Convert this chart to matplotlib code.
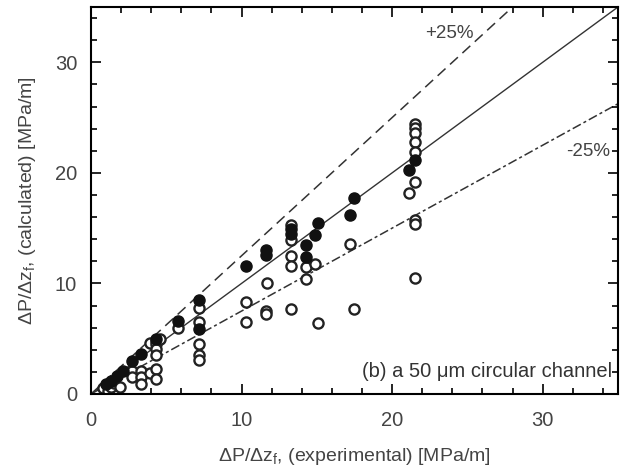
import numpy as np
import matplotlib
matplotlib.use("Agg")
import matplotlib.pyplot as plt
from matplotlib.ticker import MultipleLocator

plt.rcParams['font.family'] = ['Liberation Sans', 'DejaVu Sans']
plt.rcParams['mathtext.default'] = 'regular'

# filled symbols (x experimental, y calculated) [MPa/m]
filled_x = [1.0, 1.3, 1.7, 2.1, 2.7, 3.3, 4.3, 5.8, 7.2, 7.2, 10.3, 11.6, 11.6,
            13.3, 13.3, 14.3, 14.3, 14.9, 15.1, 17.2, 17.5, 21.1, 21.5]
filled_y = [0.9, 1.2, 1.6, 2.1, 3.0, 3.6, 5.0, 6.6, 8.5, 5.9, 11.6, 13.0, 12.6,
            14.5, 14.9, 13.5, 12.4, 14.4, 15.5, 16.2, 17.7, 20.3, 21.2]

# open symbols
open_x = [0.8, 1.1, 1.3, 1.5, 1.9, 2.7, 3.3, 2.7, 3.3, 3.3, 3.9, 3.9, 4.3, 4.3,
          4.3, 4.3, 4.3, 4.3, 4.6, 5.8, 7.2, 7.2, 7.2, 7.2, 7.2, 10.3, 10.3,
          11.7, 11.6, 11.6, 13.3, 13.3, 13.3, 13.3, 13.3, 14.3, 14.3, 14.9,
          15.1, 17.2, 17.5, 21.5, 21.5, 21.5, 21.5, 21.5, 21.5, 21.1, 21.5,
          21.5, 21.5]
open_y = [0.5, 0.3, 0.6, 1.0, 0.6, 2.1, 2.1, 1.5, 1.5, 0.9, 4.6, 1.9, 4.8, 4.5,
          4.1, 3.5, 2.3, 1.4, 5.0, 6.0, 7.8, 6.5, 4.5, 3.5, 3.1, 8.3, 6.5,
          10.0, 7.5, 7.2, 15.3, 13.9, 12.5, 11.6, 7.7, 11.5, 10.4, 11.8,
          6.4, 13.6, 7.7, 24.4, 24.1, 23.6, 22.8, 21.9, 19.2, 18.2, 15.7,
          15.4, 10.5]

fig = plt.figure(figsize=(6.21, 4.71), dpi=100)
ax = fig.add_axes([0.1465, 0.1635, 0.8485, 0.8215])

xl = np.array([0, 40])
ax.plot(xl, xl, color='#333333', lw=1.0, zorder=1)
ax.plot(xl, 1.25 * xl, color='#333333', lw=1.1, dashes=(7, 4), zorder=1)
ax.plot(xl, 0.75 * xl, color='#333333', lw=1.1, dashes=(6, 2, 2, 2), zorder=1)

ax.plot(open_x, open_y, 'o', mfc='white', mec='#222222', mew=1.7, ms=7.3,
        ls='none', zorder=2)
ax.plot(filled_x, filled_y, 'o', mfc='#111111', mec='#111111', ms=8,
        ls='none', zorder=3)

ax.text(23.8, 32.6, '+25%', ha='center', va='center', fontsize=13.5, color='#444444')
ax.text(33.0, 21.9, '-25%', ha='center', va='center', fontsize=13.5, color='#444444')
ax.text(34.6, 2.0, '(b) a 50 μm circular channel', ha='right', va='center',
        fontsize=14.5, color='#333333')

ax.set_xlim(0, 35)
ax.set_ylim(0, 35)
ax.xaxis.set_major_locator(MultipleLocator(10))
ax.xaxis.set_minor_locator(MultipleLocator(2))
ax.yaxis.set_major_locator(MultipleLocator(10))
ax.yaxis.set_minor_locator(MultipleLocator(2))
ax.tick_params(which='both', direction='in', top=True, right=True,
               labelsize=14.5, labelcolor='#444444', width=1.2)
ax.tick_params(which='major', length=7)
ax.tick_params(which='minor', length=4)
ax.tick_params(axis='x', pad=12)
ax.tick_params(axis='y', pad=10)
for s in ax.spines.values():
    s.set_linewidth(1.5)

ax.set_xlabel('ΔP/Δz$_f$, (experimental) [MPa/m]', fontsize=14,
              color='#444444', labelpad=12)
ax.set_ylabel('ΔP/Δz$_f$, (calculated) [MPa/m]', fontsize=14,
              color='#444444', labelpad=12)

fig.savefig('out.png', dpi=100)
